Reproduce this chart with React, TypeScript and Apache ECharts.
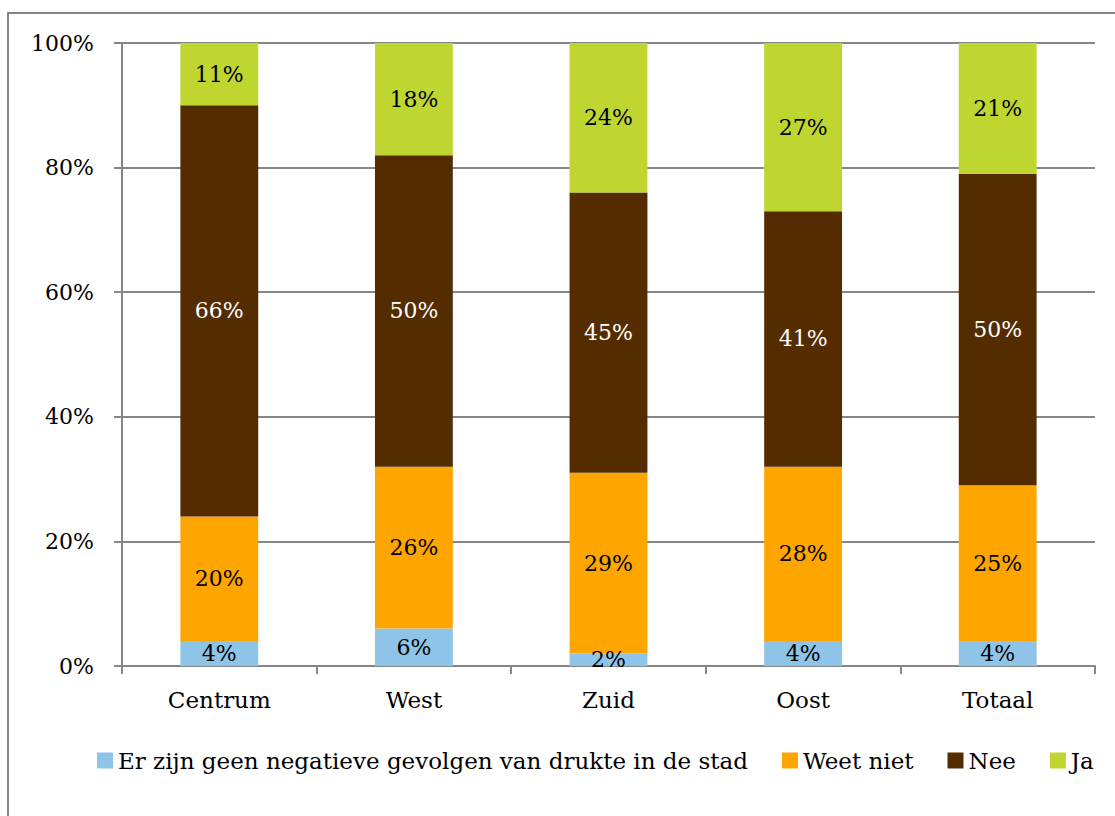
import React, { useEffect, useRef } from "react";
import * as echarts from "echarts";

const categories = ["Centrum", "West", "Zuid", "Oost", "Totaal"];
const seriesNames = [
  "Er zijn geen negatieve gevolgen van drukte in de stad",
  "Weet niet",
  "Nee",
  "Ja",
];
const geenGevolgen = [4, 6, 2, 4, 4];
const weetNiet = [20, 26, 29, 28, 25];
const nee = [66, 50, 45, 41, 50];
const ja = [11, 18, 24, 27, 21];
const yTicks = [0, 20, 40, 60, 80, 100];

const colors = ["#8EC4E8", "#FFA500", "#542C00", "#BFD630"];
const labelColors = ["#000000", "#000000", "#FFFFFF", "#000000"];
const FONT = "DejaVu Serif";

export default function App() {
  const ref = useRef<HTMLDivElement>(null);
  useEffect(() => {
    document.body.style.margin = "0";
    if (!ref.current) return;
    const chart = echarts.init(ref.current, null, { renderer: "svg" });
    const values = [geenGevolgen, weetNiet, nee, ja];
    chart.setOption({
      animation: false,
      backgroundColor: "#ffffff",
      textStyle: { fontFamily: FONT },
      grid: { left: 122, right: 20, top: 43, bottom: 150, containLabel: false },
      graphic: [
        {
          type: "rect",
          shape: { x: 8, y: 13, width: 1400, height: 1000 },
          style: { fill: "none", stroke: "#868686", lineWidth: 2 },
          silent: true,
        },
      ],
      legend: {
        data: seriesNames,
        left: 92,
        top: 744,
        itemWidth: 16,
        itemHeight: 16,
        itemGap: 34,
        icon: "rect",
        textStyle: { fontFamily: FONT, fontSize: 23, color: "#000" },
      },
      xAxis: {
        type: "category",
        data: categories,
        axisLine: { show: true, lineStyle: { color: "#868686", width: 2 } },
        axisTick: { show: true, length: 8, lineStyle: { color: "#868686", width: 2 } },
        axisLabel: { margin: 22, fontFamily: FONT, fontSize: 23, color: "#000" },
      },
      yAxis: {
        type: "value",
        min: yTicks[0],
        max: yTicks[yTicks.length - 1],
        interval: 20,
        axisLine: { show: true, lineStyle: { color: "#868686", width: 2 } },
        axisTick: { show: true, length: 8, lineStyle: { color: "#868686", width: 2 } },
        splitLine: { show: true, lineStyle: { color: "#868686", width: 2 } },
        axisLabel: {
          margin: 28,
          fontFamily: FONT,
          fontSize: 22,
          color: "#000",
          formatter: "{value}%",
        },
      },
      series: seriesNames.map((name, i) => ({
        name,
        type: "bar",
        stack: "total",
        barWidth: "40%",
        data: values[i],
        itemStyle: { color: colors[i] },
        label: {
          show: true,
          position: "inside",
          formatter: "{c}%",
          fontFamily: FONT,
          fontSize: 22,
          color: labelColors[i],
        },
      })),
    });
    return () => chart.dispose();
  }, []);
  return <div ref={ref} style={{ width: 1115, height: 816 }} />;
}
